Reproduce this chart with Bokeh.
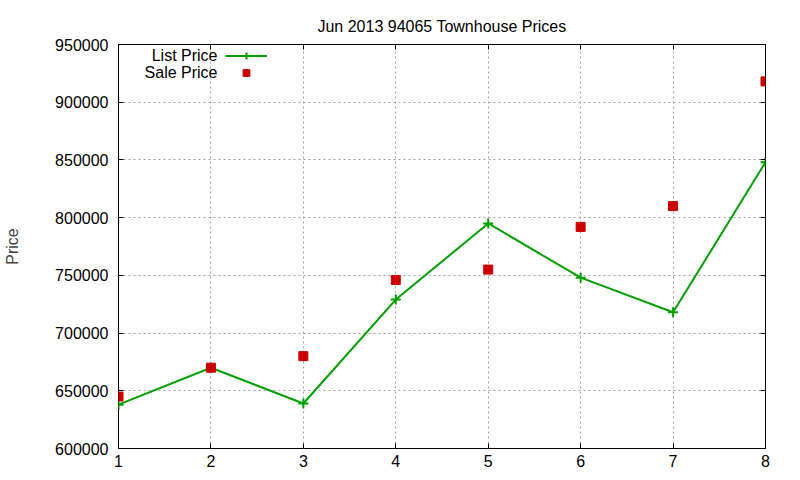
from bokeh.plotting import figure
from bokeh.models import (Range1d, LinearAxis, FixedTicker, BasicTickFormatter, Legend, LegendItem,
                          Label, CustomLabelingPolicy)
from bokeh.embed import file_html
from bokeh.resources import INLINE

# ---- data ----
x_vals = [1, 2, 3, 4, 5, 6, 7, 8]
list_price = [638000, 670000, 639000, 729000, 795000, 748000, 718000, 848000]
sale_price = [645000, 670000, 680000, 746000, 755000, 792000, 810000, 918000]
x_ticks = [1, 2, 3, 4, 5, 6, 7, 8]
y_ticks = [600000, 650000, 700000, 750000, 800000, 850000, 900000, 950000]
title_text = "Jun 2013 94065 Townhouse Prices"
y_label = "Price"
series_names = ["List Price", "Sale Price"]

FONT = "Liberation Sans"
GREEN = "#00a000"
RED = "#cc0000"

p = figure(width=800, height=480, output_backend="svg", toolbar_location=None,
           x_range=Range1d(x_ticks[0], x_ticks[-1]), y_range=Range1d(y_ticks[0], y_ticks[-1]),
           min_border_left=118, min_border_right=35, min_border_top=44, min_border_bottom=32,
           x_axis_location=None, y_axis_location=None)
p.background_fill_color = "white"
p.border_fill_color = "white"
p.outline_line_color = "black"
p.outline_line_width = 1

p.title.text = title_text
p.title.align = "center"
p.title.text_font = FONT
p.title.text_font_size = "16px"
p.title.text_font_style = "normal"
p.title.text_color = "black"
p.title.standoff = 20

no_labels = CustomLabelingPolicy(code="""
    const all = [...indices]
    for (const i of all) indices.unset(i)
    return indices
""")

def style_axis(ax, labels=True):
    ax.axis_line_color = None
    ax.major_tick_in = 5
    ax.major_tick_out = 0
    ax.minor_tick_line_color = None
    ax.major_tick_line_color = "black"
    ax.major_label_text_font = FONT
    ax.major_label_text_color = "black"
    if labels:
        ax.major_label_text_font_size = "16px"
    else:
        ax.major_label_text_font_size = "0px"
        ax.major_label_policy = no_labels
        ax.major_label_standoff = 0

yfmt = BasicTickFormatter(use_scientific=False)

left = LinearAxis(ticker=FixedTicker(ticks=y_ticks), formatter=yfmt)
style_axis(left)
left.major_label_standoff = 10
left.axis_label = y_label
left.axis_label_text_font = FONT
left.axis_label_text_font_size = "16px"
left.axis_label_text_font_style = "normal"
left.axis_label_standoff = 31
p.add_layout(left, "left")

bottom = LinearAxis(ticker=FixedTicker(ticks=x_ticks))
style_axis(bottom)
bottom.major_label_standoff = 6
p.add_layout(bottom, "below")

right = LinearAxis(ticker=FixedTicker(ticks=y_ticks))
style_axis(right, labels=False)
p.add_layout(right, "right")

top = LinearAxis(ticker=FixedTicker(ticks=x_ticks))
style_axis(top, labels=False)
p.add_layout(top, "above")

p.xgrid.ticker = FixedTicker(ticks=x_ticks)
p.ygrid.ticker = FixedTicker(ticks=y_ticks)
for g in p.grid:
    g.grid_line_color = "#a0a0a0"
    g.grid_line_dash = "2 3"
    g.grid_line_width = 1

ln = p.line(x_vals, list_price, line_color=GREEN, line_width=2)
cr = p.scatter(x_vals, list_price, marker="cross", size=10, line_color=GREEN, line_width=2)
sq = p.scatter(x_vals, sale_price, marker="square", size=9, fill_color=RED, line_color=RED)

legend = Legend(items=[LegendItem(label="", renderers=[ln, cr]),
                       LegendItem(label="", renderers=[sq])],
                location=(107, 367), orientation="vertical")
legend.padding = 0
legend.margin = 0
legend.spacing = 0
legend.glyph_width = 42
legend.glyph_height = 17
legend.label_height = 17
legend.label_width = 0
legend.label_standoff = 0
legend.border_line_color = None
legend.background_fill_alpha = 0
legend.label_text_font_size = "16px"
p.add_layout(legend, "center")

for name, yy in zip(series_names, [393, 376]):
    p.add_layout(Label(x=99, y=yy, x_units="screen", y_units="screen", text=name,
                       text_align="right", text_baseline="middle",
                       text_font=FONT, text_font_size="16px", text_color="black"))

open("out.html", "w").write(file_html(p, INLINE))
